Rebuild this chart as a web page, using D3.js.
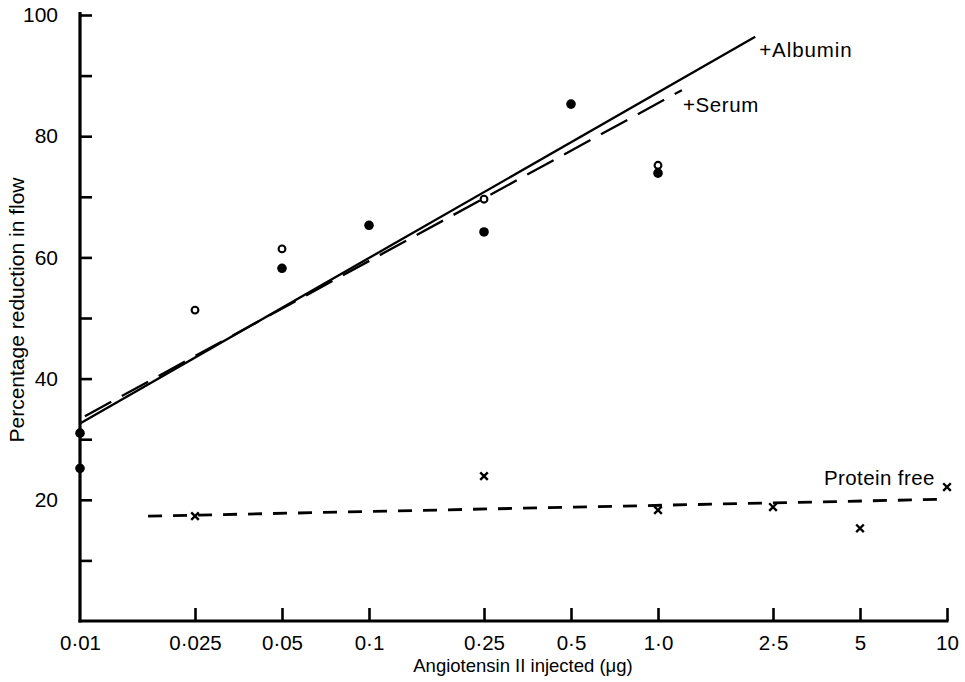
<!DOCTYPE html>
<html>
<head>
<meta charset="utf-8">
<script src="https://cdn.jsdelivr.net/npm/d3@7"></script>
<style>
  html, body { margin: 0; padding: 0; background: #fff; }
  svg { display: block; font-family: "Liberation Sans", Arial, Helvetica, sans-serif; }
</style>
</head>
<body>
<svg id="chart" width="965" height="682"></svg>
<script>
// ---- data ----
const xTicks = [0.01, 0.025, 0.05, 0.1, 0.25, 0.5, 1, 2.5, 5, 10];
const xTickLabels = ["0\u00B701", "0\u00B7025", "0\u00B705", "0\u00B71", "0\u00B725", "0\u00B75", "1\u00B70", "2\u00B75", "5", "10"];
const yTicks = [10, 20, 30, 40, 50, 60, 70, 80, 90, 100];
const yTickLabels = ["", "20", "", "40", "", "60", "", "80", "", "100"];

const filledDose = [0.01, 0.01, 0.05, 0.1, 0.25, 0.5, 1];
const filledValue = [31, 25.2, 58.2, 65.3, 64.2, 85.3, 73.9];
const openDose = [0.025, 0.05, 0.25, 1];
const openValue = [51.3, 61.4, 69.6, 75.2];
const crossDose = [0.025, 0.25, 1, 2.5, 5, 10];
const crossValue = [17.3, 23.9, 18.3, 18.8, 15.3, 22.1];

const albuminDose = [0.01, 2.17];
const albuminValue = [32.6, 96.4];
const serumDose = [0.0104, 1.21];
const serumValue = [33.8, 87.6];
const proteinDose = [0.0172, 10];
const proteinValue = [17.3, 20.1];

const lineLabels = ["+Albumin", "+Serum", "Protein free"];
const xTitle = "Angiotensin II injected (\u03BCg)";
const yTitle = "Percentage reduction in flow";

// ---- scales ----
const svg = d3.select("#chart");
const x = d3.scaleLog().domain([0.01, 10]).range([80, 947]);
const y = d3.scaleLinear().domain([0, 100]).range([621, 15]);

// ---- axes ----
const xAxis = d3.axisBottom(x).tickValues(xTicks).tickSize(-13).tickPadding(14)
  .tickFormat((d, i) => xTickLabels[i]);
const gx = svg.append("g").attr("transform", `translate(0,${y(0)})`).call(xAxis);
gx.select(".domain").attr("d", `M${x(0.01) - 1.5},0H${x(10) + 1.5}`)
  .attr("stroke", "#000").attr("stroke-width", 3.2);
gx.selectAll(".tick line").attr("stroke", "#000").attr("stroke-width", 2.6);
gx.selectAll(".tick").filter(d => d === 0.01).select("line").remove();
gx.selectAll(".tick text").attr("font-size", 20.5).attr("fill", "#000")
  .attr("font-family", "'Liberation Sans', Arial, sans-serif");

const yAxis = d3.axisLeft(y).tickValues(yTicks).tickSize(-12).tickPadding(22)
  .tickFormat((d, i) => yTickLabels[i]);
const gy = svg.append("g").attr("transform", `translate(${x(0.01)},0)`).call(yAxis);
gy.select(".domain").attr("d", `M0,${y(100) - 3}V${y(0) + 1.6}`)
  .attr("stroke", "#000").attr("stroke-width", 3.2);
gy.selectAll(".tick line").attr("stroke", "#000").attr("stroke-width", 2.6);
gy.selectAll(".tick text").attr("font-size", 21).attr("fill", "#000")
  .attr("font-family", "'Liberation Sans', Arial, sans-serif");

// ---- axis titles ----
svg.append("text").attr("x", 523).attr("y", 672).attr("text-anchor", "middle")
  .attr("font-size", 18.5).attr("fill", "#000").text(xTitle);
svg.append("text").attr("transform", "translate(24,310) rotate(-90)")
  .attr("text-anchor", "middle").attr("font-size", 21).attr("fill", "#000").text(yTitle);

// ---- fitted lines ----
const line = d3.line().x(d => x(d[0])).y(d => y(d[1]));
svg.append("path").datum(d3.zip(albuminDose, albuminValue)).attr("d", line)
  .attr("fill", "none").attr("stroke", "#000").attr("stroke-width", 2.3);
svg.append("path").datum(d3.zip(serumDose, serumValue)).attr("d", line)
  .attr("fill", "none").attr("stroke", "#000").attr("stroke-width", 2.3)
  .attr("stroke-dasharray", "30,12");
svg.append("path").datum(d3.zip(proteinDose, proteinValue)).attr("d", line)
  .attr("fill", "none").attr("stroke", "#000").attr("stroke-width", 2.8)
  .attr("stroke-dasharray", "14,11");

// ---- line labels ----
const labelFont = 20.5;
svg.append("text").attr("x", x(albuminDose[1]) + 4).attr("y", y(albuminValue[1]) + 20)
  .attr("font-size", labelFont).attr("fill", "#000").attr("letter-spacing", 0.9).text(lineLabels[0]);
svg.append("text").attr("x", x(serumDose[1]) + 1).attr("y", y(serumValue[1]) + 22)
  .attr("font-size", labelFont).attr("fill", "#000").attr("letter-spacing", 0.6).text(lineLabels[1]);
svg.append("text").attr("x", 824).attr("y", 485)
  .attr("font-size", labelFont).attr("fill", "#000").attr("letter-spacing", 0.4).text(lineLabels[2]);

// ---- points ----
svg.append("g").selectAll("circle").data(d3.zip(filledDose, filledValue)).join("circle")
  .attr("cx", d => x(d[0])).attr("cy", d => y(d[1])).attr("r", 4.8).attr("fill", "#000");
svg.append("g").selectAll("circle").data(d3.zip(openDose, openValue)).join("circle")
  .attr("cx", d => x(d[0])).attr("cy", d => y(d[1])).attr("r", 3.4)
  .attr("fill", "#fff").attr("stroke", "#000").attr("stroke-width", 2.1);
const cs = 3.8;
svg.append("g").selectAll("path").data(d3.zip(crossDose, crossValue)).join("path")
  .attr("d", d => {
    const cx = x(d[0]), cy = y(d[1]);
    return `M${cx - cs},${cy - cs}L${cx + cs},${cy + cs}M${cx - cs},${cy + cs}L${cx + cs},${cy - cs}`;
  })
  .attr("stroke", "#000").attr("stroke-width", 2.4).attr("fill", "none");
</script>
</body>
</html>
